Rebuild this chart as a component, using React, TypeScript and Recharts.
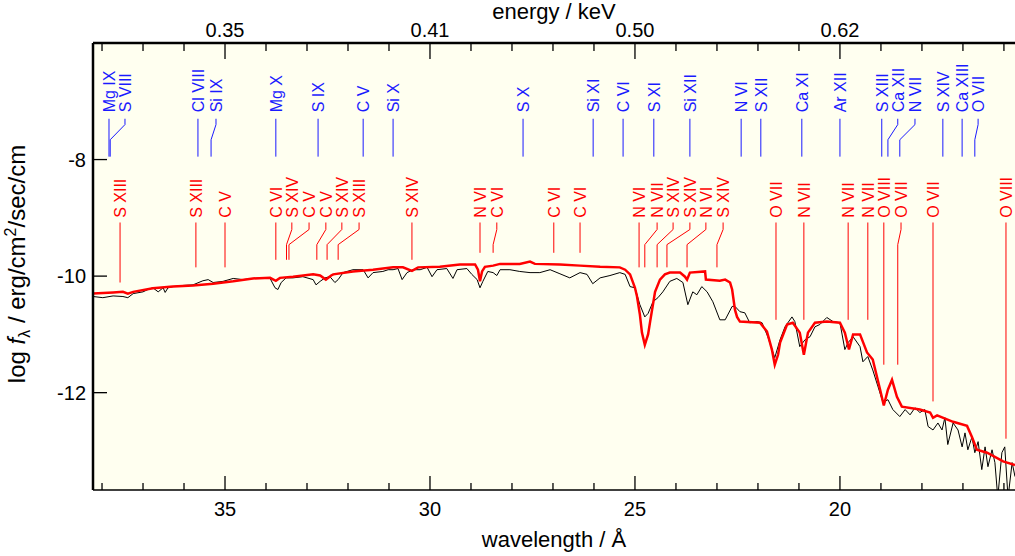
import React from 'react';
import {
    LineChart,
    Line,
    XAxis,
    YAxis,
    CartesianGrid,
    ReferenceLine,
    ReferenceDot
} from 'recharts';

// observed spectrum (black), wavelength in Angstrom and log flux
const obsWave = [
    38.22, 37.98, 37.73, 37.49, 37.37, 37.24, 37.0, 36.88, 36.76, 36.63,
    36.51, 36.46, 36.39, 36.27, 36.02, 35.78, 35.54, 35.41, 35.29, 35.05,
    34.8, 34.56, 34.32, 34.07, 33.9, 33.78, 33.71, 33.63, 33.51, 33.34,
    33.1, 32.85, 32.78, 32.68, 32.56, 32.44, 32.32, 32.24, 32.12, 31.88,
    31.63, 31.51, 31.39, 31.15, 31.02, 30.9, 30.78, 30.68, 30.56, 30.41,
    30.24, 30.07, 29.95, 29.83, 29.59, 29.44, 29.34, 29.1, 28.98, 28.85,
    28.78, 28.71, 28.59, 28.46, 28.37, 28.29, 28.05, 27.81, 27.56, 27.32,
    27.07, 26.83, 26.59, 26.34, 26.17, 26.03, 25.85, 25.61, 25.37, 25.24,
    25.12, 25.0, 24.88, 24.76, 24.68, 24.56, 24.44, 24.32, 24.15, 23.98,
    23.83, 23.71, 23.59, 23.49, 23.37, 23.24, 23.1, 22.93, 22.8, 22.63,
    22.56, 22.44, 22.32, 22.2, 22.02, 21.9, 21.76, 21.59, 21.46, 21.34,
    21.17, 21.1, 20.98, 20.85, 20.73, 20.61, 20.49, 20.32, 20.17, 20.0,
    19.88, 19.8, 19.68, 19.51, 19.44, 19.32, 19.2, 19.07, 18.95, 18.83,
    18.71, 18.54, 18.41, 18.29, 18.17, 18.05, 17.93, 17.85, 17.73, 17.61,
    17.51, 17.44, 17.37, 17.24, 17.12, 17.02, 16.95, 16.88, 16.78, 16.71,
    16.63, 16.54, 16.46, 16.39, 16.29, 16.22, 16.15, 16.05, 15.98, 15.9,
    15.8, 15.73
];
const obsFlux = [
    -10.35, -10.37, -10.34, -10.35, -10.37, -10.3, -10.27, -10.23, -10.2, -10.27,
    -10.2, -10.28, -10.2, -10.18, -10.16, -10.15, -10.08, -10.06, -10.11, -10.09,
    -10.04, -10.06, -10.04, -10.03, -10.04, -10.2, -10.23, -10.11, -10.03, -10.03,
    -10.01, -10.06, -10.15, -10.09, -10.03, -10.01, -10.11, -10.06, -9.94, -9.89,
    -9.89, -10.03, -9.94, -9.92, -9.89, -9.89, -9.87, -10.06, -9.94, -9.89,
    -9.89, -9.85, -10.01, -9.89, -9.87, -10.04, -9.89, -9.87, -9.97, -10.06,
    -10.2, -10.09, -9.92, -9.94, -9.99, -9.89, -9.89, -9.92, -9.94, -9.94,
    -9.89, -9.96, -10.03, -9.94, -9.97, -10.13, -10.03, -9.99, -9.94, -9.97,
    -10.18, -10.2, -10.49, -10.7, -10.64, -10.44, -10.37, -10.27, -10.09, -10.04,
    -10.11, -10.49, -10.27, -10.32, -10.18, -10.27, -10.44, -10.75, -10.75, -10.52,
    -10.52, -10.61, -10.63, -10.8, -10.78, -10.8, -11.04, -11.4, -11.09, -10.87,
    -10.7, -10.78, -11.21, -11.09, -11.04, -10.87, -10.83, -10.71, -10.78, -10.8,
    -11.26, -11.14, -11.04, -11.21, -11.47, -11.38, -11.61, -11.9, -12.17, -12.12,
    -12.29, -12.41, -12.29, -12.38, -12.26, -12.34, -12.29, -12.58, -12.64, -12.52,
    -12.64, -12.43, -12.89, -12.52, -12.64, -12.93, -12.69, -12.98, -12.76, -13.03,
    -12.84, -13.32, -12.93, -13.27, -12.98, -13.2, -13.8, -13.03, -12.93, -13.8,
    -13.2, -13.44
];

// model spectrum (red)
const modelWave = [
    38.22, 37.73, 37.49, 37.37, 37.24, 36.76, 36.27, 35.78, 35.29, 34.8,
    34.32, 33.9, 33.76, 33.66, 33.34, 32.85, 32.68, 32.54, 32.41, 32.36,
    31.88, 31.39, 30.9, 30.66, 30.44, 30.29, 29.76, 29.27, 28.9, 28.83,
    28.78, 28.73, 28.66, 28.46, 28.29, 27.81, 27.56, 27.44, 26.83, 26.34,
    25.85, 25.37, 25.24, 25.12, 25.0, 24.95, 24.88, 24.83, 24.76, 24.68,
    24.63, 24.51, 24.39, 24.27, 24.15, 23.9, 23.78, 23.73, 23.66, 23.29,
    23.27, 22.93, 22.8, 22.68, 22.63, 22.56, 22.51, 22.44, 21.95, 21.78,
    21.66, 21.59, 21.51, 21.46, 21.29, 21.15, 20.98, 20.88, 20.78, 20.61,
    20.32, 20.0, 19.88, 19.78, 19.68, 19.51, 19.34, 19.2, 19.02, 18.93,
    18.83, 18.73, 18.61, 18.49, 18.05, 17.8, 17.73, 17.63, 17.24, 16.9,
    16.78, 16.66, 16.41, 16.02, 15.73
];
const modelFlux = [
    -10.3, -10.28, -10.27, -10.3, -10.27, -10.21, -10.18, -10.16, -10.13, -10.09,
    -10.04, -10.03, -10.08, -10.03, -10.01, -9.97, -9.99, -10.06, -9.99, -9.97,
    -9.92, -9.89, -9.85, -9.85, -9.91, -9.85, -9.84, -9.8, -9.8, -9.89,
    -10.09, -9.92, -9.84, -9.82, -9.79, -9.79, -9.75, -9.79, -9.8, -9.82,
    -9.84, -9.85, -9.89, -9.97, -10.2, -10.35, -10.66, -10.97, -11.18, -11.0,
    -10.78, -10.27, -10.06, -9.97, -9.94, -9.94, -10.01, -10.06, -9.94, -9.92,
    -10.06, -10.08, -10.06, -10.11, -10.23, -10.58, -10.7, -10.78, -10.8, -10.95,
    -11.26, -11.52, -11.35, -11.14, -10.83, -10.8, -10.97, -11.35, -10.97, -10.8,
    -10.78, -10.8, -10.97, -11.26, -11.0, -11.0, -11.31, -11.43, -11.95, -12.22,
    -11.95, -11.78, -12.07, -12.24, -12.29, -12.34, -12.43, -12.39, -12.5, -12.57,
    -12.76, -12.98, -13.03, -13.18, -13.24
];

// line identifications: ion, line wavelength, label wavelength (and line end level for red)
const blueIds = [
    { ion: 'Mg IX', w: 37.83, at: 37.83 },
    { ion: 'S VIII', w: 37.8, at: 37.44 },
    { ion: 'Cl VIII', w: 35.66, at: 35.66 },
    { ion: 'Si IX', w: 35.34, at: 35.22 },
    { ion: 'Mg X', w: 33.76, at: 33.76 },
    { ion: 'S IX', w: 32.73, at: 32.73 },
    { ion: 'C V', w: 31.63, at: 31.63 },
    { ion: 'Si X', w: 30.9, at: 30.9 },
    { ion: 'S X', w: 27.73, at: 27.73 },
    { ion: 'Si XI', w: 26.02, at: 26.02 },
    { ion: 'C VI', w: 25.29, at: 25.29 },
    { ion: 'S XI', w: 24.54, at: 24.54 },
    { ion: 'Si XII', w: 23.66, at: 23.66 },
    { ion: 'N VI', w: 22.41, at: 22.41 },
    { ion: 'S XII', w: 21.93, at: 21.93 },
    { ion: 'Ca XI', w: 20.93, at: 20.93 },
    { ion: 'Ar XII', w: 20.0, at: 20.0 },
    { ion: 'S XIII', w: 18.98, at: 18.98 },
    { ion: 'Ca XII', w: 18.83, at: 18.59 },
    { ion: 'N VII', w: 18.54, at: 18.17 },
    { ion: 'S XIV', w: 17.49, at: 17.49 },
    { ion: 'Ca XIII', w: 17.02, at: 17.02 },
    { ion: 'O VII', w: 16.71, at: 16.63 }
];

const redIds = [
    { ion: 'S XIII', w: 37.56, at: 37.56, end: -10.11 },
    { ion: 'S XIII', w: 35.71, at: 35.71, end: -9.85 },
    { ion: 'C V', w: 35.0, at: 35.0, end: -9.85 },
    { ion: 'C VI', w: 33.76, at: 33.76, end: -9.72 },
    { ion: 'S XIV', w: 33.5, at: 33.37, end: -9.72 },
    { ion: 'C V', w: 33.44, at: 32.95, end: -9.72 },
    { ion: 'C V', w: 32.76, at: 32.54, end: -9.72 },
    { ion: 'S XIV', w: 32.51, at: 32.15, end: -9.72 },
    { ion: 'S XIII', w: 32.24, at: 31.73, end: -9.72 },
    { ion: 'S XIV', w: 30.44, at: 30.44, end: -9.72 },
    { ion: 'N VI', w: 28.78, at: 28.78, end: -9.6 },
    { ion: 'C VI', w: 28.46, at: 28.37, end: -9.6 },
    { ion: 'C VI', w: 26.98, at: 26.98, end: -9.6 },
    { ion: 'C VI', w: 26.34, at: 26.34, end: -9.6 },
    { ion: 'N VI', w: 24.9, at: 24.9, end: -9.85 },
    { ion: 'N VII', w: 24.76, at: 24.46, end: -9.85 },
    { ion: 'S XIV', w: 24.46, at: 24.07, end: -9.85 },
    { ion: 'S XIV', w: 24.22, at: 23.66, end: -9.85 },
    { ion: 'N VI', w: 23.73, at: 23.27, end: -9.85 },
    { ion: 'S XIV', w: 23.0, at: 22.85, end: -9.85 },
    { ion: 'O VII', w: 21.56, at: 21.56, end: -10.75 },
    { ion: 'N VII', w: 20.88, at: 20.88, end: -10.75 },
    { ion: 'N VII', w: 19.8, at: 19.8, end: -10.75 },
    { ion: 'N VII', w: 19.32, at: 19.32, end: -10.75 },
    { ion: 'O VIII', w: 18.93, at: 18.93, end: -11.52 },
    { ion: 'O VII', w: 18.59, at: 18.51, end: -11.52 },
    { ion: 'O VII', w: 17.73, at: 17.73, end: -12.15 },
    { ion: 'O VIII', w: 15.95, at: 15.95, end: -12.79 }
];

const waveTicks = [16, 17, 18, 19, 20, 21, 22, 23, 24, 25, 26, 27, 28, 29, 30, 31, 32, 33, 34, 35, 36, 37, 38];
const fluxTicks = [-12, -10, -8];
const waveDomain = [15.73, 38.22];
const fluxDomain = [-13.67, -6.0];
const HC = 12.398; // keV * Angstrom

const FONT = '"Liberation Sans", Arial, Helvetica, sans-serif';

const obsData = obsWave.map((w, i) => ({ w, f: obsFlux[i] }));
const modelData = modelWave.map((w, i) => ({ w, f: modelFlux[i] }));

// levels (log flux) of the id marker pieces
const blueLevels = { text: -7.19, top: -7.3, k1: -7.4, k2: -7.66, end: -7.95 };
const redLevels = { text: -9.0, top: -9.08, k1: -9.2, k2: -9.46 };

const BottomTick = ({ x, y, payload }: any) => {
    const major = payload.value % 5 === 0;
    return (
        <g>
            <line x1={x} x2={x} y1={y} y2={y - (major ? 14 : 7)} stroke="#000" strokeWidth={1.3} />
            {major && (
                <text x={x} y={y + 26} textAnchor="middle" fontSize={20} fontFamily={FONT} fill="#000">
                    {payload.value}
                </text>
            )}
        </g>
    );
};

const TopTick = ({ x, y, payload }: any) => {
    const major = payload.value % 5 === 0;
    return (
        <g>
            <line x1={x} x2={x} y1={y} y2={y + (major ? 16 : 8)} stroke="#000" strokeWidth={1.3} />
            {major && (
                <text x={x} y={y - 6} textAnchor="middle" fontSize={20} fontFamily={FONT} fill="#000">
                    {(HC / payload.value).toFixed(2)}
                </text>
            )}
        </g>
    );
};

const LeftTick = ({ x, y, payload }: any) => (
    <g>
        <line x1={x} x2={x + 14} y1={y} y2={y} stroke="#000" strokeWidth={1.3} />
        <text x={x - 7} y={y + 7} textAnchor="end" fontSize={20} fontFamily={FONT} fill="#000">
            {payload.value}
        </text>
    </g>
);

const RightTick = ({ x, y }: any) => (
    <line x1={x} x2={x - 14} y1={y} y2={y} stroke="#000" strokeWidth={1.3} />
);

const idText = (text: string, color: string) => (p: any) => (
    <text
        transform={`translate(${p.cx + 5.8},${p.cy}) rotate(-90)`}
        fontSize={16}
        fontFamily={FONT}
        fill={color}
    >
        {text}
    </text>
);

function idMarks(id: { ion: string; w: number; at: number; end?: number }, lv: any, color: string, key: string) {
    const end = id.end ?? lv.end;
    const seg = (a: any, b: any, k: string) => (
        <ReferenceLine
            key={key + k}
            xAxisId="b"
            yAxisId="l"
            segment={[a, b]}
            stroke={color}
            strokeWidth={1}
        />
    );
    const out = [
        <ReferenceDot
            key={key + 't'}
            xAxisId="b"
            yAxisId="l"
            x={id.at}
            y={lv.text}
            r={0}
            shape={idText(id.ion, color)}
        />
    ];
    if (id.at === id.w) {
        out.push(seg({ x: id.at, y: lv.top }, { x: id.w, y: end }, 's'));
    } else {
        out.push(seg({ x: id.at, y: lv.top }, { x: id.at, y: lv.k1 }, 'a'));
        out.push(seg({ x: id.at, y: lv.k1 }, { x: id.w, y: lv.k2 }, 'b'));
        out.push(seg({ x: id.w, y: lv.k2 }, { x: id.w, y: end }, 'c'));
    }
    return out;
}

export default function App() {
    const blue = '#1a1aff';
    const red = '#ff0000';
    return (
        <div style={{ position: 'absolute', left: 0, top: 0, width: 1015, height: 556, background: '#fff' }}>
            <LineChart width={1015} height={556} margin={{ top: 0, right: 0, bottom: 0, left: 0 }}>
                <CartesianGrid xAxisId="b" yAxisId="l" horizontal={false} vertical={false} fill="#fffff0" />
                <XAxis
                    xAxisId="b"
                    type="number"
                    dataKey="w"
                    domain={waveDomain}
                    reversed
                    allowDataOverflow
                    ticks={waveTicks}
                    interval={0}
                    height={66}
                    tickSize={0}
                    tickMargin={0}
                    tickLine={false}
                    tick={<BottomTick />}
                    axisLine={{ stroke: '#000', strokeWidth: 1.5 }}
                />
                <XAxis
                    xAxisId="t"
                    orientation="top"
                    type="number"
                    dataKey="w"
                    domain={waveDomain}
                    reversed
                    allowDataOverflow
                    ticks={waveTicks}
                    interval={0}
                    height={43}
                    tickSize={0}
                    tickMargin={0}
                    tickLine={false}
                    tick={<TopTick />}
                    axisLine={{ stroke: '#000', strokeWidth: 2.5 }}
                />
                <YAxis
                    yAxisId="l"
                    type="number"
                    domain={fluxDomain}
                    allowDataOverflow
                    ticks={fluxTicks}
                    interval={0}
                    width={93}
                    tickSize={0}
                    tickMargin={0}
                    tickLine={false}
                    tick={<LeftTick />}
                    axisLine={{ stroke: '#000', strokeWidth: 2.5 }}
                />
                <YAxis
                    yAxisId="r"
                    orientation="right"
                    type="number"
                    domain={fluxDomain}
                    allowDataOverflow
                    ticks={fluxTicks}
                    interval={0}
                    width={0}
                    tickSize={0}
                    tickMargin={0}
                    tickLine={false}
                    tick={<RightTick />}
                    axisLine={{ stroke: '#000', strokeWidth: 1.5 }}
                />
                {/* observed */}
                <Line
                    xAxisId="b"
                    yAxisId="l"
                    data={obsData}
                    dataKey="f"
                    type="linear"
                    stroke="#000"
                    strokeWidth={1}
                    dot={false}
                    isAnimationActive={false}
                />
                {/* model */}
                <Line
                    xAxisId="b"
                    yAxisId="l"
                    data={modelData}
                    dataKey="f"
                    type="linear"
                    stroke={red}
                    strokeWidth={2.5}
                    dot={false}
                    isAnimationActive={false}
                />
                {blueIds.flatMap((id, i) => idMarks(id, blueLevels, blue, 'b' + i))}
                {redIds.flatMap((id, i) => idMarks(id, redLevels, red, 'r' + i))}
            </LineChart>
            <svg
                width={1015}
                height={556}
                style={{ position: 'absolute', left: 0, top: 0, pointerEvents: 'none' }}
            >
                <text x={554} y={19} textAnchor="middle" fontSize={22} fontFamily={FONT} fill="#000">
                    energy / keV
                </text>
                <text x={554} y={547} textAnchor="middle" fontSize={22} fontFamily={FONT} fill="#000">
                    wavelength / Å
                </text>
                <text transform="translate(25,264) rotate(-90)" textAnchor="middle" fontSize={24} fontFamily={FONT} fill="#000">
                    log <tspan fontStyle="italic">f</tspan>
                    <tspan fontSize={16} dy={5}>λ</tspan>
                    <tspan dy={-5}> / erg/cm</tspan>
                    <tspan fontSize={16} dy={-9}>2</tspan>
                    <tspan dy={9}>/sec/cm</tspan>
                </text>
            </svg>
        </div>
    );
}
